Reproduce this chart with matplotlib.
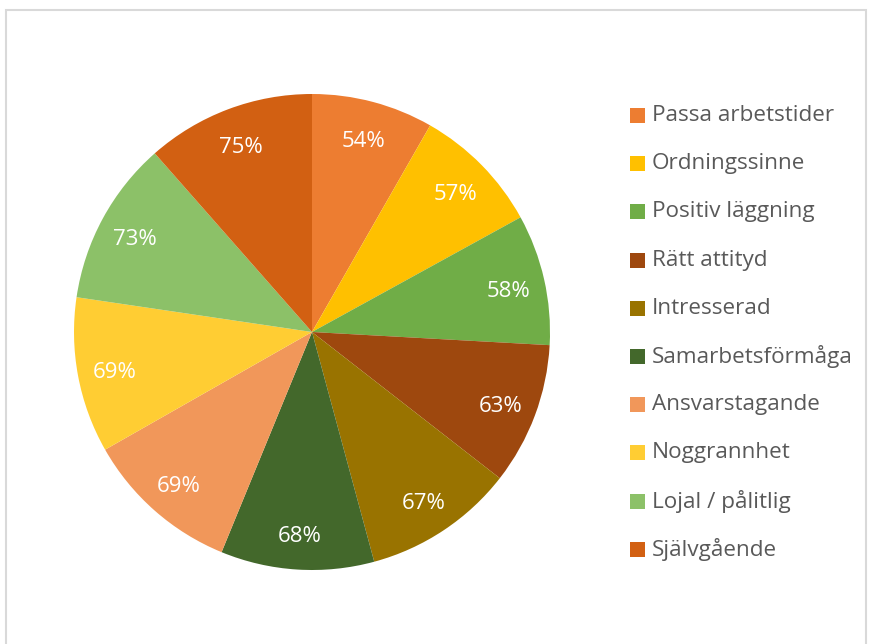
import matplotlib.pyplot as plt
from matplotlib.patches import Rectangle

labels = ["Passa arbetstider", "Ordningssinne", "Positiv läggning", "Rätt attityd",
          "Intresserad", "Samarbetsförmåga", "Ansvarstagande", "Noggrannhet",
          "Lojal / pålitlig", "Självgående"]
values = [54, 57, 58, 63, 67, 68, 69, 69, 73, 75]
colors = ["#ED7D31", "#FFC000", "#70AD47", "#9E480E", "#997300",
          "#43682B", "#F1975A", "#FFCD33", "#8CC168", "#D26012"]

plt.rcParams['font.family'] = ['Open Sans', 'DejaVu Sans']

W, H = 871, 644
fig = plt.figure(figsize=(W / 100, H / 100), dpi=100)

# outer chart frame (bottom edge falls off the picture)
fig.add_artist(Rectangle((6 / W, -0.05), 860 / W, 1.05 - 10 / H, transform=fig.transFigure,
                         fill=False, edgecolor="#d9d9d9", linewidth=1.5))

cx, cy, r = 312, 332, 238
ax = fig.add_axes([(cx - r) / W, (H - cy - r) / H, 2 * r / W, 2 * r / H])
wedges, texts = ax.pie(values, colors=colors, startangle=90, counterclock=False,
                       radius=1, labels=[f"{v}%" for v in values], labeldistance=0.845,
                       textprops=dict(color="white", fontsize=16, ha="center", va="center"))
# excel puts the labels a touch lower
for t in texts:
    x, y = t.get_position()
    t.set_position((x, y - 0.016))
ax.set_xlim(-1, 1)
ax.set_ylim(-1, 1)
ax.set_aspect("equal")
ax.axis("off")

# legend drawn by hand
y0, step = 115.5, 48.2
for i, (name, col) in enumerate(zip(labels, colors)):
    y = y0 + i * step
    fig.add_artist(Rectangle((630 / W, (H - y - 7.5) / H), 15 / W, 15 / H,
                             transform=fig.transFigure, facecolor=col, edgecolor="none"))
    fig.text(652 / W, (H - y) / H, name, fontsize=16.2, color="#595959",
             ha="left", va="center")

fig.savefig("out.png", dpi=100)
